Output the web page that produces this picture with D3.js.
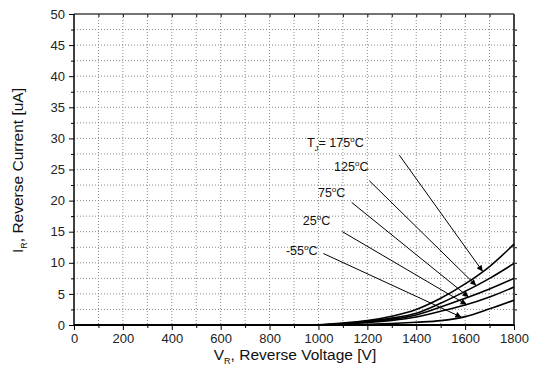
<!DOCTYPE html>
<html><head><meta charset="utf-8">
<script src="https://cdn.jsdelivr.net/npm/d3@7/dist/d3.min.js"></script>
<style>
body{margin:0;background:#fff;}
svg{display:block;font-family:"Liberation Sans",Arial,Helvetica,sans-serif;}
</style></head>
<body><svg id="c" width="541" height="380"></svg>
<script>
// ---- data ----
const voltage = [0, 200, 400, 600, 800, 1000, 1100, 1200, 1300, 1400, 1500, 1600, 1700, 1800];
const cur175 = [0, 0, 0, 0, 0, 0.05, 0.3, 0.7, 1.4, 2.5, 4.3, 6.6, 9.4, 13.0];
const cur125 = [0, 0, 0, 0, 0, 0.05, 0.25, 0.6, 1.1, 1.9, 3.5, 5.4, 7.5, 9.9];
const cur75  = [0, 0, 0, 0, 0, 0.04, 0.2, 0.5, 0.9, 1.6, 2.9, 4.3, 5.8, 7.5];
const cur25  = [0, 0, 0, 0, 0, 0.03, 0.15, 0.4, 0.75, 1.3, 2.2, 3.2, 4.5, 6.1];
const curM55 = [0, 0, 0, 0, 0, 0, 0.05, 0.12, 0.25, 0.45, 0.7, 1.35, 2.6, 4.0];
const seriesNames = ["175", "125", "75", "25", "-55"];
const xTicks = [0, 200, 400, 600, 800, 1000, 1200, 1400, 1600, 1800];
const yTicks = [0, 5, 10, 15, 20, 25, 30, 35, 40, 45, 50];
// annotation: label anchor (V, I), line start (V, I), arrow target voltage on the curve
const annLabelV = [953, 1064, 998, 936, 867];
const annLabelI = [29.3, 25.4, 21.3, 16.8, 11.9];
const annStartV = [1331, 1208, 1136, 1098, 1020];
const annStartI = [27.3, 23.2, 19.7, 15.0, 11.5];
const annEndV   = [1672, 1645, 1614, 1606, 1585];

const allSeries = [cur175, cur125, cur75, cur25, curM55];

const svg = d3.select("#c");
const L = 74, R = 514, T = 14, B = 325;
const x = d3.scaleLinear().domain([0, 1800]).range([L, R]);
const y = d3.scaleLinear().domain([0, 50]).range([B, T]);

// grid
const g = svg.append("g");
d3.range(100, 1800, 100).forEach(v => {
  g.append("line").attr("x1", x(v)).attr("x2", x(v)).attr("y1", T).attr("y2", B)
   .attr("stroke", "#8a8a8a").attr("stroke-width", 1).attr("stroke-dasharray", "1,2");
});
d3.range(2.5, 50, 2.5).forEach(v => {
  g.append("line").attr("x1", L).attr("x2", R).attr("y1", y(v)).attr("y2", y(v))
   .attr("stroke", "#8a8a8a").attr("stroke-width", 1).attr("stroke-dasharray", "1,2");
});

// axes
const xAxis = d3.axisBottom(x).tickValues(xTicks).tickSize(5).tickPadding(4).tickFormat(d3.format("d"));
const xMinor = d3.axisBottom(x).tickValues(d3.range(100, 1800, 200)).tickSize(3).tickFormat("");
const yAxis = d3.axisLeft(y).tickValues(yTicks).tickSize(5).tickPadding(4).tickFormat(d3.format("d"));
const yMinor = d3.axisLeft(y).tickValues(d3.range(2.5, 50, 5)).tickSize(3).tickFormat("");
const yRight = d3.axisRight(y).tickValues(d3.range(2.5, 50, 2.5)).tickSize(3).tickFormat("");
const xTop = d3.axisBottom(x).tickValues(d3.range(100, 1800, 100)).tickSize(3).tickFormat("");

function style(sel){
  sel.select(".domain").remove();
  sel.selectAll("line").attr("stroke", "#000").attr("stroke-width", 1);
  sel.selectAll("text").attr("fill", "#222").style("font-size", "13px").style("font-family", "'Liberation Sans',Arial,sans-serif");
}
svg.append("g").attr("transform", `translate(0,${B})`).call(xAxis).call(style);
svg.append("g").attr("transform", `translate(0,${B})`).call(xMinor).call(style);
svg.append("g").attr("transform", `translate(${L},0)`).call(yAxis).call(style);
svg.append("g").attr("transform", `translate(${L},0)`).call(yMinor).call(style);
svg.append("g").attr("transform", `translate(${R},0)`).call(yRight).call(style);
svg.append("g").attr("transform", `translate(0,${T})`).call(xTop).call(style);

// frame
svg.append("line").attr("x1", L).attr("x2", R).attr("y1", T).attr("y2", T).attr("stroke", "#444").attr("stroke-width", 1.5);
svg.append("line").attr("x1", R).attr("x2", R).attr("y1", T).attr("y2", B).attr("stroke", "#444").attr("stroke-width", 2);
svg.append("line").attr("x1", L).attr("x2", L).attr("y1", T).attr("y2", B).attr("stroke", "#000").attr("stroke-width", 1.5);
svg.append("line").attr("x1", L).attr("x2", R).attr("y1", B).attr("y2", B).attr("stroke", "#000").attr("stroke-width", 2);

// curves
const line = d3.line().x((d, i) => x(voltage[i])).y(d => y(d)).curve(d3.curveMonotoneX);
allSeries.forEach(s => {
  svg.append("path").datum(s).attr("d", line).attr("fill", "none")
    .attr("stroke", "#000").attr("stroke-width", 1.6);
});

// arrow marker
svg.append("defs").append("marker").attr("id", "ah")
  .attr("viewBox", "0 0 10 10").attr("refX", 10).attr("refY", 5)
  .attr("markerWidth", 7).attr("markerHeight", 6).attr("markerUnits", "userSpaceOnUse")
  .attr("orient", "auto")
  .append("path").attr("d", "M0,0 L10,5 L0,10 z").attr("fill", "#000");

function interp(s, v){ return d3.scaleLinear().domain(voltage).range(s)(v); }

const font = "12.5px";
allSeries.forEach((s, i) => {
  const ev = annEndV[i], ei = interp(s, ev);
  svg.append("line").attr("x1", x(annStartV[i])).attr("y1", y(annStartI[i]))
    .attr("x2", x(ev)).attr("y2", y(ei)).attr("stroke", "#000").attr("stroke-width", 1)
    .attr("marker-end", "url(#ah)");
  const t = svg.append("text").attr("x", x(annLabelV[i])).attr("y", y(annLabelI[i]))
    .attr("dy", "0.35em").attr("fill", "#111").style("font-size", font);
  if (i === 0) {
    t.append("tspan").text("T");
    t.append("tspan").text("J").attr("dy", 4).style("font-size", "8px");
    t.append("tspan").text("= " + seriesNames[i]).attr("dy", -4);
  } else {
    t.append("tspan").text(seriesNames[i]);
  }
  t.append("tspan").text("o").attr("dy", -5).style("font-size", "8px");
  t.append("tspan").text("C").attr("dy", 5);
});

// axis titles
const xt = svg.append("text").attr("x", (L + R) / 2 + 1).attr("y", 360)
  .attr("text-anchor", "middle").attr("fill", "#111").style("font-size", "15.5px");
xt.append("tspan").text("V");
xt.append("tspan").text("R").attr("dy", 4).style("font-size", "9px");
xt.append("tspan").text(", Reverse Voltage [V]").attr("dy", -4);

const yt = svg.append("text").attr("transform", `translate(23,${(T + B) / 2 + 1}) rotate(-90)`)
  .attr("text-anchor", "middle").attr("fill", "#111").style("font-size", "15.5px");
yt.append("tspan").text("I");
yt.append("tspan").text("R").attr("dy", 4).style("font-size", "9px");
yt.append("tspan").text(", Reverse Current [uA]").attr("dy", -4);
</script></body></html>
